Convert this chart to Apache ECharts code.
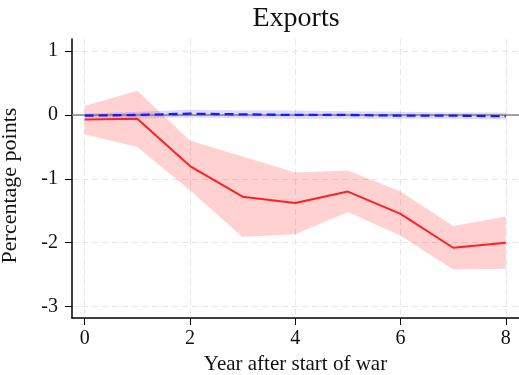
<!DOCTYPE html>
<html>
<head>
<meta charset="utf-8">
<script src="https://cdn.jsdelivr.net/npm/echarts@6/dist/echarts.min.js"></script>
<style>
  html, body { margin: 0; padding: 0; background: #fff; }
  #chart { width: 519px; height: 375px; }
</style>
</head>
<body>
<div id="chart"></div>
<script>
// Years since the war began
const years = [0, 1, 2, 3, 4, 5, 6, 7, 8];

// Red estimate and its confidence band
const redEstimate = [-0.07, -0.06, -0.80, -1.28, -1.38, -1.20, -1.55, -2.08, -2.00];
const redUpper    = [0.14, 0.38, -0.40, -0.65, -0.90, -0.87, -1.20, -1.74, -1.59];
const redLower    = [-0.30, -0.50, -1.18, -1.91, -1.87, -1.52, -1.89, -2.42, -2.41];

// Blue estimate and its confidence band
const blueEstimate = [-0.01, 0.00, 0.02, 0.01, 0.00, 0.00, -0.01, -0.01, -0.02];
const blueUpper    = [0.02, 0.05, 0.08, 0.07, 0.07, 0.06, 0.05, 0.04, 0.04];
const blueLower    = [-0.04, -0.05, -0.04, -0.05, -0.06, -0.06, -0.06, -0.06, -0.07];

// Tick labels
const xTicks = [0, 2, 4, 6, 8];
const yTicks = [-3, -2, -1, 0, 1];

const FONT = '"Liberation Serif", "DejaVu Serif", serif';

const pairs = (ys) => years.map((x, i) => [x, ys[i]]);

// Confidence band: one filled polygon running along the upper bound and back along the lower bound
function band(name, lo, hi, color, z) {
  return {
    name: name, type: 'custom', silent: true, z: z,
    data: years.map((x, i) => [x, lo[i], hi[i]]),
    encode: { x: 0, y: [1, 2] },
    renderItem: function (params, api) {
      if (params.dataIndex !== 0) return null;
      const top = years.map((x, i) => api.coord([x, hi[i]]));
      const bottom = years.map((x, i) => api.coord([x, lo[i]])).reverse();
      return {
        type: 'polygon',
        shape: { points: top.concat(bottom) },
        style: { fill: color },
        silent: true
      };
    }
  };
}

const chart = echarts.init(document.getElementById('chart'), null, { renderer: 'canvas' });

chart.setOption({
  animation: false,
  backgroundColor: '#ffffff',
  title: {
    text: 'Exports',
    left: 291, top: 0, textAlign: 'center',
    textStyle: { fontFamily: FONT, fontSize: 28, fontWeight: 'normal', color: '#111' }
  },
  grid: { left: 72, right: 0, top: 39, bottom: 57, containLabel: false, outerBoundsMode: 'none' },
  xAxis: {
    type: 'value', min: -0.24, max: 8.25,
    name: 'Year after start of war', nameLocation: 'middle', nameGap: 35,
    nameTextStyle: { fontFamily: FONT, fontSize: 21, color: '#111' },
    axisLine: { show: true, onZero: false, lineStyle: { color: '#000', width: 1.5 } },
    axisTick: { show: true, length: 7, customValues: xTicks, lineStyle: { color: '#000', width: 1 } },
    axisLabel: { customValues: xTicks, margin: 11, fontFamily: FONT, fontSize: 20, color: '#111' },
    splitLine: { show: true, lineStyle: { color: '#e6e6e6', width: 1, type: [6, 4] } }
  },
  yAxis: {
    type: 'value', min: -3.18, max: 1.19,
    name: 'Percentage points', nameLocation: 'middle', nameGap: 51, nameRotate: 90,
    nameTextStyle: { fontFamily: FONT, fontSize: 22, color: '#111', padding: [0, 14, 0, 0] },
    axisLine: { show: true, onZero: false, lineStyle: { color: '#000', width: 1.5 } },
    axisTick: { show: true, length: 7, customValues: yTicks, lineStyle: { color: '#000', width: 1 } },
    axisLabel: { customValues: yTicks, margin: 14, fontFamily: FONT, fontSize: 20, color: '#111' },
    splitLine: { show: true, lineStyle: { color: '#e6e6e6', width: 1, type: [6, 4] } }
  },
  series: [
    band('redBand', redLower, redUpper, 'rgba(255,0,0,0.18)', 2),
    {
      name: 'red', type: 'line', data: pairs(redEstimate), symbol: 'none',
      lineStyle: { color: '#ff2020', width: 2 }, z: 4
    },
    band('blueBand', blueLower, blueUpper, 'rgba(40,40,255,0.17)', 3),
    {
      name: 'zero', type: 'line', data: [], symbol: 'none', z: 5,
      markLine: {
        silent: true, symbol: 'none', label: { show: false },
        lineStyle: { color: '#808080', width: 1.5, type: 'solid' },
        data: [{ yAxis: 0 }]
      }
    },
    {
      name: 'blue', type: 'line', data: pairs(blueEstimate), symbol: 'none',
      lineStyle: { color: '#1a1aff', width: 2.3, type: [9, 5] }, z: 6
    }
  ]
});
</script>
</body>
</html>
